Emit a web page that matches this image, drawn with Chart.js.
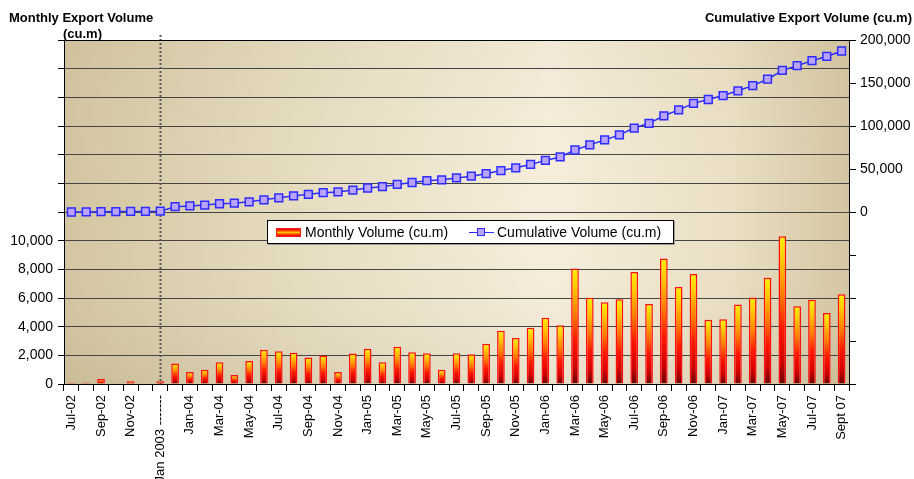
<!DOCTYPE html>
<html>
<head>
<meta charset="utf-8">
<title>Monthly and Cumulative Export Volume</title>
<script src="https://cdn.jsdelivr.net/npm/chart.js@4/dist/chart.umd.min.js"></script>
<style>
    body { margin: 0; background: #fff; font-family: "Liberation Sans", Arial, sans-serif; }
    #wrap { position: relative; width: 914px; height: 479px; overflow: hidden; }
    #chart { position: absolute; left: 0; top: 0; }
    .axisTitle { position: absolute; font-weight: bold; font-size: 13px; color: #000; white-space: nowrap; line-height: 15px; }
    #legend {
        position: absolute; left: 267px; top: 220px; width: 407px; height: 24px; box-sizing: border-box;
        background: #fff; border: 1px solid #000; box-shadow: 1px 1px 0 #9a9a9a;
        font-size: 14px; color: #000; white-space: nowrap;
    }
    #legend span { position: absolute; top: 3px; line-height: 16px; }
    .swatchBar {
        position: absolute; left: 8px; top: 7px; width: 25px; height: 9px;
        background: linear-gradient(to bottom, #e80000 0%, #ff5a00 30%, #ffc400 50%, #ff5a00 70%, #e80000 100%);
        border: 1px solid #ff1a1a; box-sizing: border-box;
    }
    .swatchLine { position: absolute; left: 201px; top: 11px; width: 25px; height: 0; border-top: 1.5px solid #2d2dff; }
    .swatchPoint { position: absolute; left: 209px; top: 7px; width: 8px; height: 8px; box-sizing: border-box; background: #b9a3ff; border: 1.5px solid #2d2dff; }
</style>
</head>
<body>
<div id="wrap">
    <canvas id="chart" width="914" height="479"></canvas>
    <div class="axisTitle" style="left:9px; top:10px;">Monthly Export Volume</div>
    <div class="axisTitle" style="left:63px; top:26px;">(cu.m)</div>
    <div class="axisTitle" style="right:2px; top:10px;">Cumulative Export Volume (cu.m)</div>
    <div id="legend">
        <div class="swatchBar"></div>
        <span style="left:37px;">Monthly Volume (cu.m)</span>
        <div class="swatchLine"></div>
        <div class="swatchPoint"></div>
        <span style="left:229px;">Cumulative Volume (cu.m)</span>
    </div>
</div>
<script>
// ------------------- Dane -------------------
const categories = [
    'Jul-02', 'Aug-02', 'Sep-02', 'Oct-02', 'Nov-02', 'Dec-02', 'Jan 2003 -------',
    'Dec-03', 'Jan-04', 'Feb-04', 'Mar-04', 'Apr-04', 'May-04', 'Jun-04', 'Jul-04', 'Aug-04',
    'Sep-04', 'Oct-04', 'Nov-04', 'Dec-04', 'Jan-05', 'Feb-05', 'Mar-05', 'Apr-05', 'May-05',
    'Jun-05', 'Jul-05', 'Aug-05', 'Sep-05', 'Oct-05', 'Nov-05', 'Dec-05', 'Jan-06', 'Feb-06',
    'Mar-06', 'Apr-06', 'May-06', 'Jun-06', 'Jul-06', 'Aug-06', 'Sep-06', 'Oct-06', 'Nov-06',
    'Dec-06', 'Jan-07', 'Feb-07', 'Mar-07', 'Apr-07', 'May-07', 'Jun-07', 'Jul-07', 'Aug-07', 'Sept 07'
];

const monthlyVolume = [
    80, 80, 350, 50, 190, 40, 190,
    1430, 840, 1000, 1520, 630, 1610, 2390, 2290, 2180,
    1850, 1990, 840, 2130, 2460, 1520, 2600, 2220, 2150,
    1000, 2150, 2080, 2810, 3720, 3210, 3930, 4630, 4100,
    8050, 6010, 5710, 5920, 7820, 5590, 8750, 6760, 7680,
    4490, 4520, 5550, 6040, 7420, 10300, 5430, 5870, 4960, 6270
];

const cumulativeVolume = [
    0, 100, 400, 500, 700, 700, 900,
    6200, 7000, 8000, 9600, 10200, 11800, 14200, 16500, 18700,
    20500, 22500, 23300, 25500, 27900, 29500, 32000, 34300, 36400,
    37400, 39600, 41700, 44500, 48200, 51400, 55300, 60000, 64000,
    72100, 78100, 83800, 89700, 97600, 103100, 111900, 118700, 126300,
    130800, 135400, 140900, 146900, 154400, 164700, 170100, 176000, 180900, 187200
];

// osie: lewa (miesięczna) i prawa (skumulowana)
const monthlyAxis = { min: 0, max: 24000, step: 2000, lastLabel: 10000 };
const cumulativeAxis = { min: -200000, max: 200000, step: 50000, firstLabel: 0 };
const breakIndex = 6; // "Jan 2003" - linia przerywana

const FONT = "'Liberation Sans', Arial, sans-serif";
Chart.defaults.font.family = FONT;
Chart.defaults.color = '#000';

// ------------------- Gradient słupków -------------------
function barGradient(context) {
    const chart = context.chart;
    if (!chart.chartArea || context.type !== 'data') return '#ff3300';
    const yScale = chart.scales.y;
    const top = yScale.getPixelForValue(context.raw);
    const bottom = yScale.getPixelForValue(0);
    if (bottom - top < 2) return '#ff2a00';
    const g = chart.ctx.createLinearGradient(0, top, 0, bottom);
    g.addColorStop(0, '#fff000');
    g.addColorStop(0.15, '#ffcc00');
    g.addColorStop(0.4, '#ff7a00');
    g.addColorStop(0.62, '#ff1800');
    g.addColorStop(0.85, '#d00000');
    g.addColorStop(1, '#6a0000');
    return g;
}

// ------------------- Tło i linia przerywana -------------------
const backgroundPlugin = {
    id: 'plotBackground',
    beforeDraw(chart) {
        const { ctx, chartArea: a } = chart;
        ctx.save();
        const g = ctx.createLinearGradient(a.left, 0, a.right, 0);
        g.addColorStop(0, '#d3c5a0');
        g.addColorStop(0.3, '#e6dcc0');
        g.addColorStop(0.62, '#f6eedb');
        g.addColorStop(0.85, '#eadfc4');
        g.addColorStop(1, '#d4c6a1');
        ctx.fillStyle = g;
        ctx.fillRect(a.left, a.top, a.right - a.left, a.bottom - a.top);
        // lekkie przyciemnienie przy dole
        const v = ctx.createLinearGradient(0, a.top, 0, a.bottom);
        v.addColorStop(0, 'rgba(120,100,60,0.04)');
        v.addColorStop(0.55, 'rgba(255,255,255,0.0)');
        v.addColorStop(1, 'rgba(120,100,60,0.10)');
        ctx.fillStyle = v;
        ctx.fillRect(a.left, a.top, a.right - a.left, a.bottom - a.top);
        ctx.restore();
    },
    beforeDatasetsDraw(chart) {
        const { ctx, chartArea: a } = chart;
        const x = Math.round(chart.scales.x.getPixelForValue(breakIndex)) + 0.5;
        ctx.save();
        ctx.strokeStyle = '#595959';
        ctx.lineWidth = 2;
        ctx.setLineDash([2, 2]);
        ctx.beginPath();
        ctx.moveTo(x, a.top - 5);
        ctx.lineTo(x, a.bottom);
        ctx.stroke();
        ctx.restore();
    },
    afterDraw(chart) {
        const { ctx, chartArea: a } = chart;
        ctx.save();
        ctx.strokeStyle = '#000';
        ctx.lineWidth = 1;
        ctx.beginPath();
        ctx.moveTo(a.left - 5, Math.round(a.top) + 0.5);
        ctx.lineTo(a.right, Math.round(a.top) + 0.5);
        ctx.stroke();
        ctx.restore();
    }
};

// ------------------- Wykres -------------------
const chart = new Chart(document.getElementById('chart'), {
    data: {
        labels: categories,
        datasets: [
            {
                type: 'line',
                label: 'Cumulative Volume (cu.m)',
                data: cumulativeVolume,
                yAxisID: 'y2',
                order: 0,
                borderColor: '#2d2dff',
                borderWidth: 1.5,
                tension: 0,
                pointStyle: 'rect',
                pointRadius: 5.5,
                pointBackgroundColor: '#b9a3ff',
                pointBorderColor: '#2d2dff',
                pointBorderWidth: 1.5
            },
            {
                type: 'bar',
                label: 'Monthly Volume (cu.m)',
                data: monthlyVolume,
                yAxisID: 'y',
                order: 1,
                backgroundColor: barGradient,
                borderColor: '#ff1010',
                borderWidth: 1.5,
                barPercentage: 0.52,
                categoryPercentage: 1
            }
        ]
    },
    options: {
        responsive: false,
        animation: false,
        devicePixelRatio: 1,
        layout: { padding: { top: 40, left: 0, right: 0, bottom: 0 } },
        plugins: { legend: { display: false }, tooltip: { enabled: false } },
        scales: {
            x: {
                type: 'category',
                offset: true,
                grid: { offset: true, drawOnChartArea: false, tickColor: '#000', tickLength: 7 },
                border: { color: '#000', width: 1 },
                ticks: {
                    autoSkip: false, minRotation: 90, maxRotation: 90, padding: 4,
                    font: { size: 13 },
                    callback: (v, i) => i % 2 === 0 ? categories[i] : ''
                },
                afterFit: s => { s.height = 95; }
            },
            y: {
                position: 'left',
                min: monthlyAxis.min, max: monthlyAxis.max,
                grid: { color: '#444', lineWidth: 1, tickColor: '#000', tickLength: 6 },
                border: { color: '#000', width: 1 },
                ticks: {
                    stepSize: monthlyAxis.step, padding: 5, font: { size: 14 },
                    callback: v => v <= monthlyAxis.lastLabel ? v.toLocaleString('en-US') : ''
                },
                afterFit: s => { s.width = 64; }
            },
            y2: {
                position: 'right',
                min: cumulativeAxis.min, max: cumulativeAxis.max,
                grid: { drawOnChartArea: false, tickColor: '#000', tickLength: 7 },
                border: { color: '#000', width: 1 },
                ticks: {
                    stepSize: cumulativeAxis.step, padding: 4, font: { size: 14 },
                    callback: v => v >= cumulativeAxis.firstLabel ? v.toLocaleString('en-US') : ''
                },
                afterFit: s => { s.width = 65; }
            }
        }
    },
    plugins: [backgroundPlugin]
});
</script>
</body>
</html>
